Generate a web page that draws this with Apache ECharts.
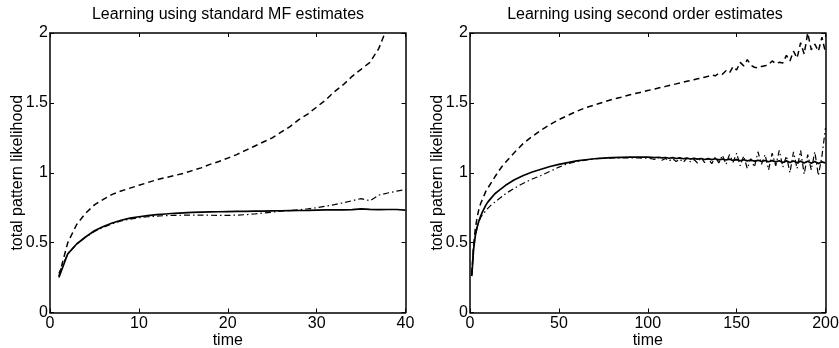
<!DOCTYPE html>
<html>
<head>
<meta charset="utf-8">
<script src="https://cdn.jsdelivr.net/npm/echarts@6/dist/echarts.min.js"></script>
<style>
html,body{margin:0;padding:0;background:#fff;}
#chart{width:839px;height:348px;}
</style>
</head>
<body>
<div id="chart"></div>
<script>
// ---- Data ----
var titles = ['Learning using standard MF estimates', 'Learning using second order estimates'];
var xName = 'time';
var yName = 'total pattern likelihood';

// Left panel (standard MF), time 1..40
var leftTime = [1,2,3,4,5,6,7,8,9,10,11,12,13,14,15,16,17,18,19,20,21,22,23,24,25,26,27,28,29,30,31,32,33,34,35,36,37,38,39,40];
var leftSolid = [0.25,0.42,0.49,0.54,0.585,0.615,0.64,0.66,0.675,0.685,0.693,0.70,0.705,0.71,0.713,0.716,0.718,0.72,0.721,0.722,0.723,0.724,0.725,0.726,0.727,0.728,0.729,0.73,0.731,0.733,0.734,0.735,0.735,0.736,0.742,0.738,0.736,0.737,0.737,0.733];
var leftDashed = [0.26,0.50,0.63,0.71,0.77,0.81,0.845,0.87,0.89,0.91,0.93,0.95,0.965,0.98,0.995,1.015,1.035,1.06,1.08,1.105,1.13,1.16,1.19,1.22,1.25,1.29,1.33,1.38,1.42,1.47,1.52,1.58,1.63,1.69,1.74,1.79,1.89,2.05,2.2,2.35];
var leftDashDot = [0.28,0.42,0.49,0.54,0.58,0.61,0.635,0.655,0.668,0.678,0.685,0.69,0.693,0.695,0.696,0.697,0.697,0.696,0.695,0.695,0.697,0.70,0.705,0.712,0.718,0.725,0.73,0.735,0.742,0.75,0.76,0.772,0.785,0.80,0.815,0.80,0.84,0.855,0.868,0.88];

// Right panel (second order), time 1..200
var rightTime = [1,2,3,4,5,6,7,8,9,10,12,14,16,18,20,25,30,35,40,45,50,55,60,65,70,75,80,85,90,95,100,
  102,104,106,108,110,112,114,116,118,120,122,124,126,128,130,132,134,136,138,140,
  142,144,146,148,150,152,154,156,158,160,162,164,166,168,170,172,174,176,178,180,
  182,184,186,188,190,192,194,196,198,200];
var rightSolid = [0.26,0.45,0.55,0.61,0.655,0.69,0.72,0.745,0.77,0.79,0.82,0.85,0.87,0.89,0.91,0.95,0.98,1.005,1.025,1.045,1.06,1.073,1.085,1.093,1.10,1.105,1.108,1.11,1.112,1.112,1.112,
  1.110,1.108,1.111,1.106,1.109,1.104,1.108,1.102,1.106,1.100,1.105,1.098,1.103,1.097,1.102,1.095,1.101,1.094,1.100,1.092,
  1.098,1.091,1.097,1.088,1.094,1.086,1.093,1.085,1.091,1.083,1.089,1.080,1.088,1.079,1.087,1.078,1.086,1.074,1.085,1.073,
  1.084,1.072,1.083,1.070,1.082,1.068,1.080,1.066,1.078,1.070];
var rightDashed = [0.27,0.48,0.60,0.68,0.74,0.78,0.81,0.84,0.87,0.89,0.93,0.97,1.01,1.045,1.075,1.145,1.21,1.26,1.305,1.345,1.38,1.41,1.44,1.465,1.485,1.505,1.525,1.54,1.558,1.573,1.588,
  1.594,1.600,1.606,1.612,1.618,1.624,1.630,1.636,1.642,1.648,1.654,1.660,1.666,1.672,1.678,1.684,1.690,1.700,1.694,1.712,
  1.705,1.730,1.715,1.760,1.735,1.790,1.765,1.810,1.770,1.755,1.750,1.760,1.765,1.775,1.800,1.780,1.790,1.785,1.840,1.800,
  1.870,1.820,1.930,1.850,2.000,1.880,1.920,1.870,1.970,1.860];
var rightDashDot = [0.28,0.45,0.55,0.61,0.65,0.68,0.70,0.715,0.73,0.745,0.77,0.79,0.81,0.83,0.85,0.89,0.925,0.955,0.98,1.01,1.04,1.065,1.08,1.09,1.10,1.104,1.106,1.107,1.107,1.106,1.104,
  1.100,1.095,1.108,1.090,1.102,1.085,1.100,1.080,1.098,1.075,1.105,1.078,1.095,1.070,1.110,1.072,1.100,1.065,1.112,1.070,
  1.125,1.060,1.130,1.075,1.140,1.050,1.120,1.030,1.100,1.040,1.150,1.060,1.130,1.020,1.140,1.050,1.160,1.040,1.120,1.000,
  1.150,1.030,1.160,0.990,1.130,1.020,1.150,0.980,1.120,1.320];

function zip(xs, ys){ var out=[]; for(var i=0;i<xs.length;i++) out.push([xs[i], ys[i]]); return out; }

var FONT = '"Liberation Sans", Arial, Helvetica, sans-serif';
var FS = 16;
var chart = echarts.init(document.getElementById('chart'), null, {renderer:'canvas'});

var grids = [
  {left:50, top:33, width:355.5, height:279.5, containLabel:false, outerBoundsMode:'none'},
  {left:470, top:33, width:355.5, height:279.5, containLabel:false, outerBoundsMode:'none'}
];
var xMax = [40, 200], xInt = [10, 50];

var xAxes = [], yAxes = [];
for (var g=0; g<2; g++){
  xAxes.push({type:'value', gridIndex:g, position:'bottom', min:0, max:xMax[g], interval:xInt[g],
    name:xName, nameLocation:'middle', nameGap:20, nameMoveOverlap:false,
    nameTextStyle:{color:'#000', fontSize:FS, fontFamily:FONT},
    axisLine:{show:true, onZero:false, lineStyle:{color:'#000', width:1.5}},
    axisTick:{show:true, inside:true, length:4, lineStyle:{color:'#000'}},
    axisLabel:{color:'#000', fontSize:FS, fontFamily:FONT, margin:3},
    splitLine:{show:false}});
  xAxes.push({type:'value', gridIndex:g, position:'top', min:0, max:xMax[g], interval:xInt[g],
    axisLine:{show:true, onZero:false, lineStyle:{color:'#000', width:1.5}},
    axisTick:{show:true, inside:true, length:4, lineStyle:{color:'#000'}},
    axisLabel:{show:false}, splitLine:{show:false}});
  yAxes.push({type:'value', gridIndex:g, position:'left', min:0, max:2, interval:0.5,
    name:yName, nameLocation:'middle', nameGap:24, nameMoveOverlap:false,
    nameTextStyle:{color:'#000', fontSize:FS, fontFamily:FONT},
    axisLine:{show:true, onZero:false, lineStyle:{color:'#000', width:1.5}},
    axisTick:{show:true, inside:true, length:4, lineStyle:{color:'#000'}},
    axisLabel:{color:'#000', fontSize:FS, fontFamily:FONT, margin:2},
    splitLine:{show:false}});
  yAxes.push({type:'value', gridIndex:g, position:'right', min:0, max:2, interval:0.5,
    axisLine:{show:true, onZero:false, lineStyle:{color:'#000', width:1.5}},
    axisTick:{show:true, inside:true, length:4, lineStyle:{color:'#000'}},
    axisLabel:{show:false}, splitLine:{show:false}});
}

function mk(g, data, type, width){
  return {type:'line', xAxisIndex:g*2, yAxisIndex:g*2, data:data, showSymbol:false, symbol:'none',
    clip:true, animation:false, silent:true,
    lineStyle:{color:'#000', width:width, type:type}};
}
var DASH = [6,4], DASHDOT = [6,3,1.5,3];

var option = {
  backgroundColor:'#fff',
  animation:false,
  title:[
    {text:titles[0], left:223, top:2, textAlign:'center', textStyle:{color:'#000', fontSize:FS, fontWeight:'normal', fontFamily:FONT}},
    {text:titles[1], left:640, top:2, textAlign:'center', textStyle:{color:'#000', fontSize:FS, fontWeight:'normal', fontFamily:FONT}}
  ],
  grid:grids,
  xAxis:xAxes,
  yAxis:yAxes,
  series:[
    mk(0, zip(leftTime, leftSolid), 'solid', 1.7),
    mk(0, zip(leftTime, leftDashed), DASH, 1.5),
    mk(0, zip(leftTime, leftDashDot), DASHDOT, 1.2),
    mk(1, zip(rightTime, rightSolid), 'solid', 1.7),
    mk(1, zip(rightTime, rightDashed), DASH, 1.5),
    mk(1, zip(rightTime, rightDashDot), DASHDOT, 1.2)
  ]
};
chart.setOption(option);
</script>
</body>
</html>
